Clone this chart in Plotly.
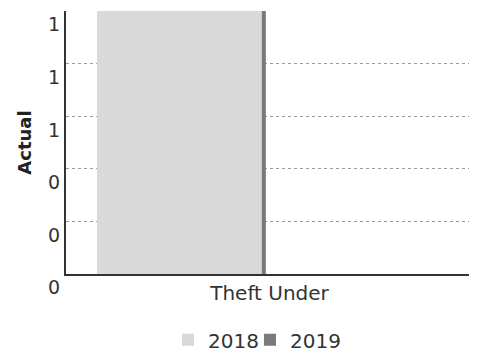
import plotly.graph_objects as go

categories = ["Theft Under"]
series_2018 = [1]
series_2019 = [1]
y_ticks = [0, 0.2, 0.4, 0.6, 0.8, 1.0]
y_tick_labels = ["0", "0", "0", "1", "1", "1"]

fig = go.Figure()
fig.add_trace(go.Bar(
    x=categories, y=series_2018, name="2018",
    marker=dict(color="#d9d9d9", line=dict(width=0)),
    width=0.405, offset=-0.424, legend="legend",
))
fig.add_trace(go.Bar(
    x=categories, y=series_2019, name="2019",
    marker=dict(color="#7a7a7a", line=dict(width=0)),
    width=0.01, offset=-0.019, legend="legend2",
))

legend_style = dict(orientation="h", yanchor="top", y=-0.176, xanchor="left",
                    font=dict(size=20, color="#333"), itemwidth=30,
                    bgcolor="rgba(0,0,0,0)")

fig.update_layout(
    width=469, height=354,
    margin=dict(l=58, r=4, t=3, b=79),
    paper_bgcolor="white", plot_bgcolor="white",
    font=dict(family="DejaVu Sans", color="#222"),
    barmode="overlay",
    showlegend=True,
    legend=dict(x=0.2506, **legend_style),
    legend2=dict(x=0.452, **legend_style),
    xaxis=dict(showgrid=False, showline=True, linecolor="#333", linewidth=2,
               ticks="", tickfont=dict(size=20, color="#333"), range=[-0.5, 0.5],
               automargin=False),
    yaxis=dict(range=[0, 1.0], tickvals=y_ticks, ticktext=y_tick_labels,
               showgrid=True, gridcolor="#999", griddash="dot", gridwidth=1,
               showline=True, linecolor="#333", linewidth=2,
               ticks="outside", ticklen=4, tickcolor="rgba(0,0,0,0)",
               ticklabelposition="outside bottom",
               tickfont=dict(size=19, color="#333"),
               title=dict(text="<b>Actual</b>", font=dict(size=18, color="#222"), standoff=12),
               zeroline=False, automargin=False),
)

fig.write_html("out.html")
